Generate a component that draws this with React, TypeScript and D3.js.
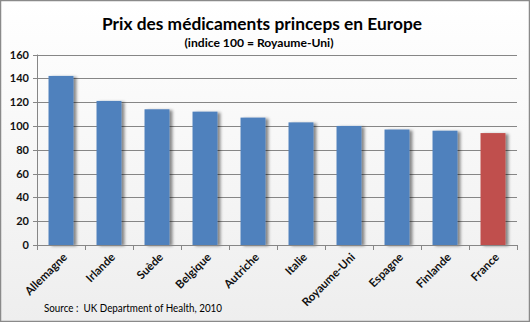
import React from "react";
import * as d3 from "d3";

const categories = ["Allemagne", "Irlande", "Suède", "Belgique", "Autriche", "Italie", "Royaume-Uni", "Espagne", "Finlande", "France"];
const values = [142, 121, 114, 112, 107, 103, 100, 97, 96, 94];
const yTicks = [0, 20, 40, 60, 80, 100, 120, 140, 160];
const highlight = "France";

const W = 530;
const H = 322;
const left = 37;
const right = 517;
const top = 54.5;
const bottom = 245;
const FONT = "Lato, 'Open Sans', 'DejaVu Sans', sans-serif";

export default function App() {
  const x = d3.scaleBand<string>().domain(categories).range([left, right]).paddingInner(0.48).paddingOuter(0.24);
  const y = d3.scaleLinear().domain([0, 160]).range([bottom, top]);
  const step = x.step();
  const boundaries = d3.range(categories.length + 1).map((i) => left + i * step);
  return (
    <svg width={W} height={H} style={{ position: "absolute", left: 0, top: 0, display: "block" }}>
      <defs>
        <linearGradient id="bg" x1="0" y1="0" x2="0" y2="1">
          <stop offset="0" stopColor="#ffffff" />
          <stop offset="1" stopColor="#eeeeee" />
        </linearGradient>
        <filter id="sh" x="-30%" y="-10%" width="180%" height="130%">
          <feDropShadow dx="3" dy="1" stdDeviation="1.4" floodColor="#000" floodOpacity="0.45" />
        </filter>
      </defs>
      <rect x={0.5} y={0.5} width={W - 1} height={H - 1} fill="url(#bg)" stroke="#8a8a8a" strokeWidth={1.5} />
      <text x={262} y={30} textAnchor="middle" fontFamily={FONT} fontWeight="bold" fontSize={17.5} fill="#000" textLength={320} lengthAdjust="spacingAndGlyphs">
        Prix des médicaments princeps en Europe
      </text>
      <text x={259} y={47} textAnchor="middle" fontFamily={FONT} fontWeight="bold" fontSize={11.5} fill="#000" textLength={149} lengthAdjust="spacingAndGlyphs">
        (indice 100 = Royaume-Uni)
      </text>
      {yTicks.map((t) => (
        <g key={t}>
          {t > 0 && <line x1={left} x2={right} y1={Math.round(y(t)) + 0.5} y2={Math.round(y(t)) + 0.5} stroke="#868686" strokeWidth={1} />}
          <line x1={left - 4} x2={left} y1={Math.round(y(t)) + 0.5} y2={Math.round(y(t)) + 0.5} stroke="#868686" />
          <text x={29} y={y(t) + 4} textAnchor="end" fontFamily={FONT} fontWeight="bold" fontSize={11} fill="#111">
            {t}
          </text>
        </g>
      ))}
      {categories.map((c, i) => (
        <rect
          key={c}
          x={x(c)}
          y={y(values[i])}
          width={x.bandwidth()}
          height={bottom - y(values[i])}
          fill={c === highlight ? "#c0504d" : "#4f81bd"}
          filter="url(#sh)"
        />
      ))}
      <line x1={left + 0.5} x2={left + 0.5} y1={top} y2={bottom} stroke="#868686" />
      <line x1={left} x2={right} y1={bottom + 0.5} y2={bottom + 0.5} stroke="#868686" />
      {boundaries.map((b, i) => (
        <line key={i} x1={Math.round(b) + 0.5} x2={Math.round(b) + 0.5} y1={bottom} y2={bottom + 5} stroke="#868686" />
      ))}
      {categories.map((c) => {
        const cx = (x(c) as number) + x.bandwidth() / 2 + 4;
        const cy = bottom + 10;
        return (
          <text key={c} transform={`translate(${cx},${cy}) rotate(-45)`} textAnchor="end" dy="0.35em" fontFamily={FONT} fontWeight="bold" fontSize={11.5} fill="#111">
            {c}
          </text>
        );
      })}
      <text x={44} y={312} fontFamily={FONT} fontSize={11.5} fill="#000" textLength={178} lengthAdjust="spacingAndGlyphs">
        {"Source :\u00a0\u00a0UK Department of Health, 2010"}
      </text>
    </svg>
  );
}
